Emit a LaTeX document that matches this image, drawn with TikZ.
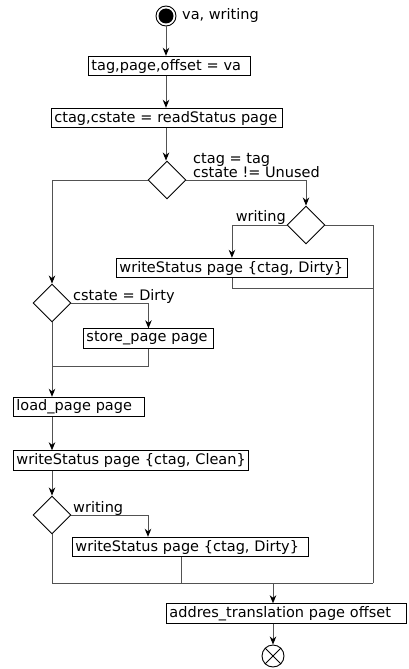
\documentclass[tikz,border=0pt]{standalone}
\usepackage{fontspec}
\setmainfont{DejaVu Sans}
\usetikzlibrary{shapes.geometric,arrows.meta,calc}
\begin{document}
\begin{tikzpicture}[x=1pt,y=-1pt,
  font=\fontsize{14.5}{17}\selectfont,
  action/.style={draw=black,line width=0.9pt,anchor=west,inner xsep=3pt,inner ysep=0pt,
    minimum height=19.5pt,text width=#1-6pt,align=left},
  choice/.style={draw=black,line width=0.9pt,diamond,minimum width=38pt,minimum height=38pt,inner sep=0pt},
  flow/.style={draw=black!68,line width=0.9pt},
  arr/.style={flow,-{Stealth[black,length=8pt,width=6.5pt,inset=2.5pt]}},
  lbl/.style={inner sep=0pt}]
\useasboundingbox (0,0) rectangle (408,669);

% initial and final states
\node[circle,draw=black,line width=0.9pt,minimum size=20pt,inner sep=0pt] (start) at (166,16) {};
\fill (start) circle (7.5pt);
\node[lbl,anchor=west] (startlbl) at (182,16) {va, writing};
\node[circle,draw=black,line width=0.9pt,minimum size=22pt,inner sep=0pt] (stop) at (273,656) {};
\draw[line width=0.9pt] (stop.north west) -- (stop.south east) (stop.north east) -- (stop.south west);

% actions
\node[action=162pt] (b1) at (88,66) {\mbox{tag,page,offset = va}};
\node[action=231pt] (b2) at (51,118) {\mbox{ctag,cstate = readStatus page}};
\node[action=231pt] (b3) at (116,268) {\mbox{writeStatus page \{ctag, Dirty\}}};
\node[action=130pt] (b4) at (83,338.5) {\mbox{store\_page page}};
\node[action=131pt] (b5) at (13,407) {\mbox{load\_page page}};
\node[action=235pt] (b6) at (13,460.5) {\mbox{writeStatus page \{ctag, Clean\}}};
\node[action=236pt] (b7) at (72,547) {\mbox{writeStatus page \{ctag, Dirty\}}};
\node[action=240pt] (b8) at (166,613.5) {\mbox{addres\_translation page offset}};

% decisions
\node[choice] (d1) at (167,180) {};
\node[choice] (d2) at (52,303) {};
\node[choice] (d3) at (306,225) {};
\node[choice] (d4) at (52,515) {};

% guard labels
\node[lbl,anchor=base west] (g1a) at (193,163) {ctag = tag};
\node[lbl,anchor=base west] (g1b) at (193,177) {cstate != Unused};
\node[lbl,anchor=base east] (g3) at (286,221) {writing};
\node[lbl,anchor=base west] (g2) at (73,300) {cstate = Dirty};
\node[lbl,anchor=base west] (g4) at (73,512) {writing};

% junction points
\coordinate (rside) at (373,583);
\coordinate (j1) at (373,288);
\coordinate (j2) at (52,366);
\coordinate (a7) at (148,0);
\coordinate (b7out) at (181,0);
\coordinate (mL) at (52,583);
\coordinate (mA) at (273,583);

% connectors
\draw[arr] (start.south) -- (start.south |- b1.north);
\draw[arr] (start.south |- b1.south) -- (start.south |- b2.north);
\draw[arr] (start.south |- b2.south) -- (start.south |- d1.north);
\draw[arr] (d1.west) -| (d2.north);
\draw[arr] (d1.east) -| (d3.north);
\draw[arr] (d3.west) -| (b3.north);
\draw[flow] (d3.east) -| (rside);
\draw[flow] (b3.south) |- (j1);
\draw[arr] (d2.east) -| (b4.north);
\draw[flow] (b4.south) |- (j2);
\draw[arr] (d2.south) -- (d2.south |- b5.north);
\draw[arr] (d2 |- b5.south) -- (d2 |- b6.north);
\draw[arr] (d4 |- b6.south) -- (d4.north);
\draw[arr] (d4.east) -| (a7 |- b7.north);
\draw[flow] (b7out |- b7.south) -- (b7out |- mL);
\draw[flow] (d4.south) -- (mL) -- (rside);
\draw[arr] (mA) -- (mA |- b8.north);
\draw[arr] (mA |- b8.south) -- (stop.north);
\end{tikzpicture}
\end{document}
